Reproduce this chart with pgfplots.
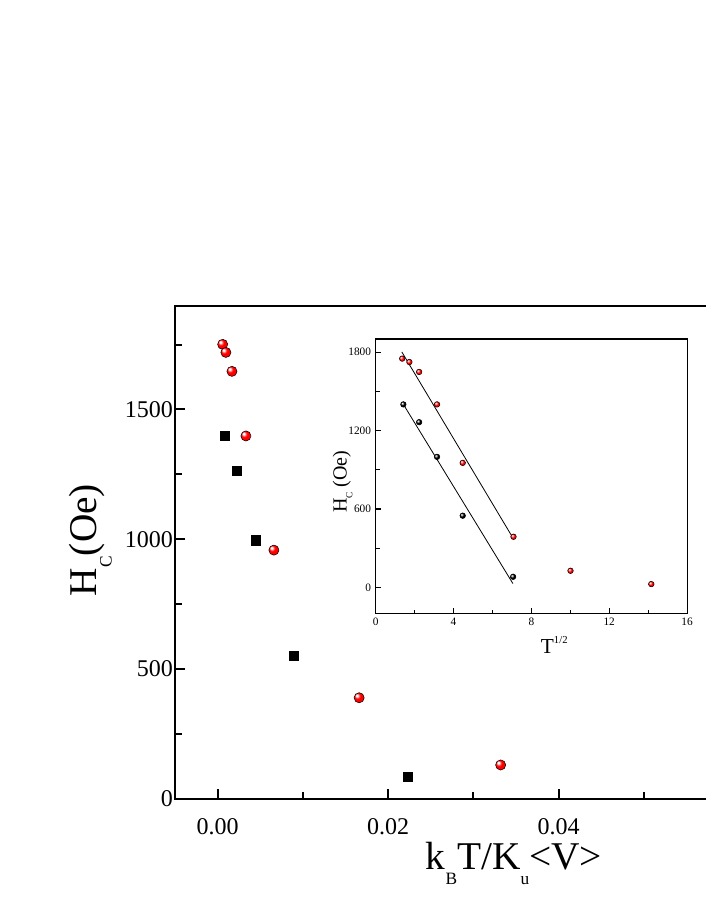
\documentclass[border=0pt]{standalone}
\usepackage{fontspec}
\setmainfont{Liberation Serif}
\usepackage{pgfplots}
\pgfplotsset{compat=1.18}
\makeatletter
\pgfdeclareradialshading[tikz@ball]{ball}{\pgfqpoint{-12bp}{12bp}}{%
  color(0bp)=(tikz@ball!0!white);
  color(4bp)=(tikz@ball!0!white);
  color(14bp)=(tikz@ball);
  color(30bp)=(tikz@ball);
  color(45bp)=(tikz@ball!85!black);
  color(60bp)=(tikz@ball!65!black)}
\makeatother
\begin{document}
\begin{tikzpicture}
\path[use as bounding box] (0,0) rectangle (529.5pt,684.75pt);
% main axis
\begin{axis}[
  at={(131.25pt,85.725pt)}, anchor=south west,
  scale only axis, width=447.56pt, height=369.75pt,
  xmin=-0.005, xmax=0.065, ymin=0, ymax=1900,
  xtick={0,0.02,0.04}, minor xtick={0.01,0.03,0.05},
  ytick={0,500,1000,1500}, minor ytick={250,750,1250,1750},
  scaled x ticks=false,
  /pgf/number format/assume math mode=true,
  /pgf/number format/1000 sep={},
  tick align=inside, xtick pos=bottom, ytick pos=left,
  major tick length=7.5pt, minor tick length=5pt,
  axis line style={line width=1.5pt},
  tick style={line width=1.5pt, black},
  tick label style={font=\fontsize{18}{18}\selectfont},
  xticklabel style={/pgf/number format/fixed, /pgf/number format/fixed zerofill, /pgf/number format/precision=2, yshift=-11pt},
  yticklabel style={xshift=2pt},
  xlabel={k\raisebox{-11.25pt}{\fontsize{13}{13}\selectfont B}T/K\raisebox{-11.25pt}{\fontsize{13}{13}\selectfont u}<V>},
  xlabel style={font=\fontsize{29.5}{30}\selectfont, at={(axis description cs:0.568,-0.1446)}, anchor=base},
  ylabel={H\raisebox{-11.25pt}{\fontsize{13}{13}\selectfont C}(Oe)},
  ylabel style={font=\fontsize{29.5}{30}\selectfont, at={(axis description cs:-0.1312,0.5247)}, anchor=base},
]
\addplot[only marks, mark=ball, mark size=3.8pt, mark options={ball color=red}] coordinates {
(0.00059,1751) (0.00097,1720) (0.00168,1647) (0.00332,1398) (0.0066,958) (0.0166,389) (0.0332,130)
};
\addplot[only marks, mark=square*, mark size=3.5pt, black] coordinates {
(0.00086,1398) (0.00223,1265) (0.0045,996) (0.0089,552) (0.0223,85)
};
\end{axis}
% inset
\begin{axis}[
  at={(281.8pt,224.5pt)}, anchor=south west,
  scale only axis, width=233.5pt, height=206pt,
  xmin=0, xmax=16, ymin=-200, ymax=1900,
  xtick={0,4,8,12,16}, minor xtick={2,6,10,14},
  ytick={0,600,1200,1800}, minor ytick={300,900,1500},
  /pgf/number format/assume math mode=true,
  /pgf/number format/1000 sep={},
  tick align=inside, xtick pos=bottom, ytick pos=left,
  major tick length=4.3pt, minor tick length=3pt,
  axis line style={line width=0.8pt},
  tick style={line width=0.8pt, black},
  tick label style={font=\fontsize{8.5}{8.5}\selectfont},
  xlabel={T\raisebox{8pt}{\fontsize{8}{8}\selectfont 1/2}},
  xlabel style={font=\fontsize{16}{16}\selectfont, at={(axis description cs:0.5734,-0.1467)}, anchor=base},
  ylabel={H\raisebox{-4.25pt}{\fontsize{7}{7}\selectfont C} (Oe)},
  ylabel style={font=\fontsize{15}{15}\selectfont, at={(axis description cs:-0.0932,0.4805)}, anchor=base},
]
\addplot[black, line width=0.6pt] coordinates {(1.34,1801) (7.05,379)};
\addplot[black, line width=0.6pt] coordinates {(1.38,1410) (7.05,30)};
\addplot[only marks, mark=ball, mark size=2.1pt, mark options={ball color=red}] coordinates {
(1.36,1750) (1.73,1724) (2.23,1648) (3.15,1400) (4.47,953) (7.08,388) (10.01,128) (14.16,26)
};
\addplot[only marks, mark=ball, mark size=2.1pt, mark options={ball color=black}] coordinates {
(1.42,1400) (2.23,1264) (3.15,999) (4.47,549) (7.06,82)
};
\end{axis}
\end{tikzpicture}
\end{document}
